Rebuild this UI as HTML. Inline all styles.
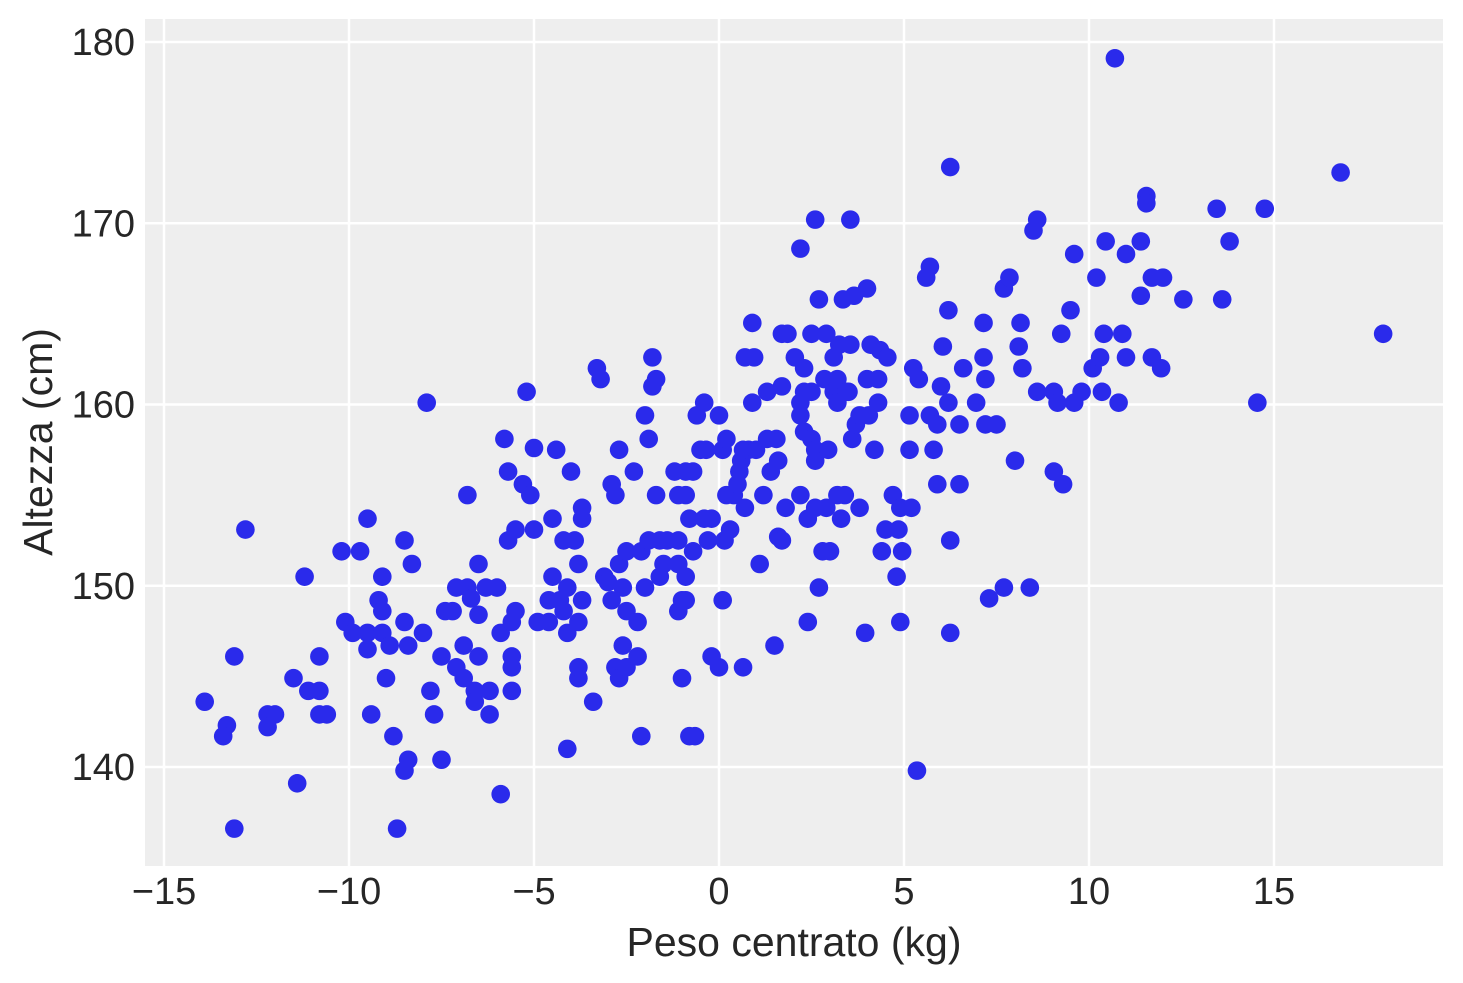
<!DOCTYPE html>
<html><head><meta charset="utf-8"><style>
body{margin:0;background:#fff}
svg{display:block}
text{font-family:"Liberation Sans",Arial,sans-serif;fill:#262626}
</style></head><body>
<svg id="chart" width="1463" height="983" xmlns="http://www.w3.org/2000/svg">
<rect x="145" y="19" width="1298" height="847" fill="#eeeeee"/>
<g id="grid"></g>
<g id="pts"></g>
<g id="ticks"></g>
<text x="794" y="956" font-size="41" text-anchor="middle">Peso centrato (kg)</text>
<text transform="translate(52,442) rotate(-90)" font-size="41" text-anchor="middle">Altezza (cm)</text>
</svg>
<script>
const xTicks=[-15,-10,-5,0,5,10,15];
const xTickLabels=["−15","−10","−5","0","5","10","15"];
const yTicks=[140,150,160,170,180];
const yTickLabels=["140","150","160","170","180"];
const weights=[-13.9,-13.3,-13.4,-13.1,-13.1,-12.8,-12.2,-12.2,-12.0,-11.5,-11.4,-11.2,-11.1,-10.8,-10.8,-10.8,-10.6,-10.2,-10.1,-9.9,-9.7,-9.5,-9.5,-9.5,-9.4,-9.2,-9.1,-9.1,-9.1,-9.0,-8.9,-8.8,-8.7,-8.5,-8.5,-8.5,-8.4,-8.4,-8.3,-8.0,-7.9,-7.8,-7.7,-7.5,-7.5,-7.4,-7.2,-7.1,-7.1,-6.9,-6.9,-6.8,-6.8,-6.7,-6.6,-6.6,-6.5,-6.5,-6.5,-6.3,-6.2,-6.2,-6.0,-5.9,-5.9,-5.8,-5.7,-5.7,-5.6,-5.6,-5.6,-5.6,-5.5,-5.5,-5.2,-5.3,-5.1,-5.0,-5.0,-4.9,-4.6,-4.6,-4.5,-4.5,-4.4,-4.3,-4.2,-4.2,-4.1,-4.1,-4.1,-4.0,-3.9,-3.8,-3.8,-3.8,-3.8,-3.7,-3.7,-3.7,-3.4,-3.3,-3.2,-3.1,-3.0,-2.9,-2.9,-2.8,-2.8,-2.7,-2.7,-2.7,-2.6,-2.6,-2.5,-2.5,-2.5,-2.3,-2.2,-2.2,-2.1,-2.1,-2.0,-2.0,-1.9,-1.9,-1.8,-1.8,-1.7,-1.7,-1.6,-1.6,-1.5,-1.4,-1.1,-1.1,-1.2,-1.1,-1.1,-1.0,-1.0,-0.9,-0.9,-0.9,-0.9,-0.8,-0.8,-0.7,-0.7,-0.65,-0.6,-0.5,-0.4,-0.4,-0.35,-0.3,-0.2,-0.2,0.0,0.0,0.1,0.1,0.2,0.2,0.15,0.3,0.4,0.5,0.55,0.6,0.65,0.7,0.65,0.7,0.8,0.9,0.95,0.9,1.0,1.1,1.2,1.3,1.3,1.4,1.5,1.55,1.6,1.6,1.7,1.7,1.7,1.8,1.85,2.05,2.2,2.2,2.2,2.2,2.3,2.3,2.3,2.4,2.4,2.5,2.5,2.5,2.6,2.6,2.6,2.6,2.7,2.7,2.8,2.85,2.9,2.9,2.95,3.0,3.1,3.1,3.2,3.2,3.2,3.25,3.3,3.35,3.4,3.45,3.5,3.55,3.55,3.6,3.65,3.7,3.8,3.8,3.95,4.0,4.0,4.05,4.1,4.2,4.3,4.3,4.35,4.4,4.5,4.55,4.7,4.8,4.85,4.9,4.9,4.95,5.15,5.15,5.2,5.25,5.35,5.4,5.6,5.7,5.7,5.8,5.9,5.9,6.0,6.05,6.2,6.2,6.25,6.25,6.25,6.5,6.5,6.6,6.95,7.15,7.15,7.2,7.2,7.3,7.5,7.7,7.7,7.85,8.0,8.1,8.15,8.2,8.4,8.5,8.6,8.6,9.05,9.05,9.15,9.25,9.3,9.5,9.6,9.6,9.8,10.1,10.2,10.3,10.35,10.4,10.45,10.7,10.8,10.9,11.0,11.0,11.4,11.4,11.55,11.55,11.7,11.7,11.95,12.0,12.55,13.45,13.6,13.8,14.55,14.75,16.8,17.95];
const heights=[143.6,142.3,141.7,146.1,136.6,153.1,142.9,142.2,142.9,144.9,139.1,150.5,144.2,146.1,144.2,142.9,142.9,151.9,148.0,147.4,151.9,153.7,147.4,146.5,142.9,149.2,148.6,150.5,147.4,144.9,146.7,141.7,136.6,152.5,148.0,139.8,140.4,146.7,151.2,147.4,160.1,144.2,142.9,140.4,146.1,148.6,148.6,145.5,149.9,144.9,146.7,155.0,149.9,149.3,144.2,143.6,148.4,151.2,146.1,149.9,144.2,142.9,149.9,138.5,147.4,158.1,156.3,152.5,148.0,146.1,145.5,144.2,148.6,153.1,160.7,155.6,155.0,157.6,153.1,148.0,148.0,149.2,150.5,153.7,157.5,149.2,148.6,152.5,147.4,141.0,149.9,156.3,152.5,148.0,144.9,151.2,145.5,154.3,149.2,153.7,143.6,162.0,161.4,150.5,150.2,155.6,149.2,145.5,155.0,144.9,157.5,151.2,146.7,149.9,151.9,148.6,145.5,156.3,148.0,146.1,141.7,151.9,159.4,149.9,152.5,158.1,162.6,161.0,161.4,155.0,152.5,150.5,151.2,152.5,152.5,148.6,156.3,155.0,151.2,149.2,144.9,156.3,155.0,149.2,150.5,141.7,153.7,156.3,151.9,141.7,159.4,157.5,153.7,160.1,157.5,152.5,146.1,153.7,159.4,145.5,149.2,157.5,158.1,155.0,152.5,153.1,155.0,155.6,156.3,156.9,157.5,162.6,145.5,154.3,157.5,164.5,162.6,160.1,157.5,151.2,155.0,158.1,160.7,156.3,146.7,158.1,156.9,152.7,152.5,163.9,161.0,154.3,163.9,162.6,168.6,155.0,159.4,160.1,160.7,162.0,158.5,148.0,153.7,160.7,163.9,158.1,170.2,157.5,156.9,154.3,165.8,149.9,151.9,161.4,154.3,163.9,157.5,151.9,162.6,160.7,155.0,160.1,161.4,163.3,153.7,165.8,155.0,160.7,160.7,170.2,163.3,158.1,166.0,158.9,159.4,154.3,147.4,166.4,161.4,159.4,163.3,157.5,160.1,161.4,163.0,151.9,153.1,162.6,155.0,150.5,153.1,148.0,154.3,151.9,159.4,157.5,154.3,162.0,139.8,161.4,167.0,167.6,159.4,157.5,158.9,155.6,161.0,163.2,165.2,160.1,173.1,152.5,147.4,158.9,155.6,162.0,160.1,164.5,162.6,161.4,158.9,149.3,158.9,149.9,166.4,167.0,156.9,163.2,164.5,162.0,149.9,169.6,170.2,160.7,156.3,160.7,160.1,163.9,155.6,165.2,168.3,160.1,160.7,162.0,167.0,162.6,160.7,163.9,169.0,179.1,160.1,163.9,162.6,168.3,169.0,166.0,171.5,171.1,162.6,167.0,162.0,167.0,165.8,170.8,165.8,169.0,160.1,170.8,172.8,163.9];
const NS='http://www.w3.org/2000/svg';
const sx=v=>719+37*v;
const sy=v=>767-(v-140)*18.125;
const grid=document.getElementById('grid'),ticks=document.getElementById('ticks'),pts=document.getElementById('pts');
xTicks.forEach((t,i)=>{
 const l=document.createElementNS(NS,'line');
 
 
 l.setAttribute('x1',sx(t));l.setAttribute('x2',sx(t));l.setAttribute('y1',19);l.setAttribute('y2',866);
 l.setAttribute('stroke','#fff');l.setAttribute('stroke-width','2.5');grid.appendChild(l);
 const tx=document.createElementNS(NS,'text');
 
 
 tx.setAttribute('x',sx(t));tx.setAttribute('y',904);tx.setAttribute('font-size','38');tx.setAttribute('text-anchor','middle');
 tx.textContent=xTickLabels[i];ticks.appendChild(tx);
});
yTicks.forEach((t,i)=>{
 const l=document.createElementNS(NS,'line');
 
 
 l.setAttribute('x1',145);l.setAttribute('x2',1443);l.setAttribute('y1',sy(t));l.setAttribute('y2',sy(t));
 l.setAttribute('stroke','#fff');l.setAttribute('stroke-width','2.5');grid.appendChild(l);
 const tx=document.createElementNS(NS,'text');
 
 
 tx.setAttribute('x',135);tx.setAttribute('y',sy(t)+13);tx.setAttribute('font-size','38');tx.setAttribute('text-anchor','end');
 tx.textContent=yTickLabels[i];ticks.appendChild(tx);
});
weights.forEach((w,i)=>{
 const c=document.createElementNS(NS,'circle');
 
 
 c.setAttribute('cx',sx(w));c.setAttribute('cy',sy(heights[i]));c.setAttribute('r',9.3);c.setAttribute('fill','#2a2aeb');
 pts.appendChild(c);
});
</script>
</body></html>
